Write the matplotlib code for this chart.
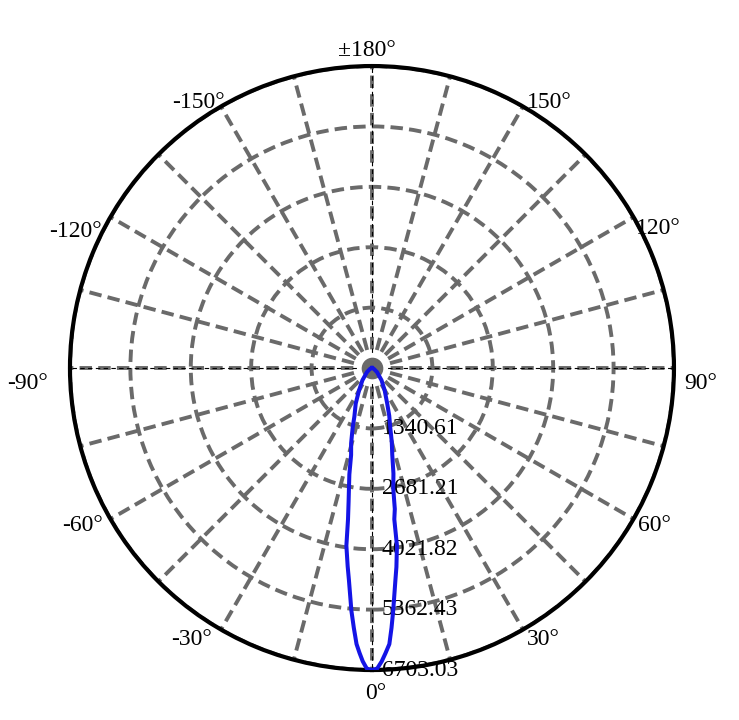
import numpy as np
import matplotlib
matplotlib.use('Agg')
import matplotlib.pyplot as plt
from matplotlib.transforms import offset_copy

plt.rcParams['font.family'] = ['Liberation Serif', 'DejaVu Serif']

# intensity curve (angle in degrees, 0 = down, + = right)
angles_deg = [-90, -70, -51, -38, -30, -24.6, -20, -17.9, -15.5, -13.5, -12, -10.8,
              -9.9, -9.0, -8.2, -7.0, -6.2, -4.85, -4.0, -3.2, -2.5, -1.8, -1,
              0, 1, 1.9, 2.7, 3.6, 4.3, 5.0, 6.3, 7.0, 8.0, 8.4, 9.2, 10.0, 11.5,
              13.2, 15, 17.0, 19.9, 23.2, 29.6, 38, 51, 70, 90]
intensity = [0, 40, 144, 345, 575, 867, 1140, 1397, 1730, 1985, 2415, 2729,
             3020, 3400, 3984, 4430, 4736, 5405, 5780, 6137, 6330, 6514, 6670,
             6703.03, 6670, 6515, 6340, 6140, 5784, 5405, 4738, 4450, 3981, 3393, 3170, 2722, 2390,
             1970, 1700, 1390, 1126, 858, 570, 345, 144, 40, 0]

r_ticks = [1340.61, 2681.21, 4021.82, 5362.43, 6703.03]
r_labels = ['1340.61', '2681.21', '4021.82', '5362.43', '6703.03']
theta_label_angles = [0, 30, 60, 90, 120, 150, 180, 210, 240, 270, 300, 330]
theta_labels = ['0°', '30°', '60°', '90°', '120°', '150°',
                '±180°', '-150°', '-120°', '-90°', '-60°', '-30°']

# placement of the angle labels around the rim: (dx, dy) in pixels, ha, va
label_place = {
    0: (4, -13, 'center', 'top'),
    30: (4, 1, 'left', 'top'),
    60: (4, 4, 'left', 'top'),
    90: (10, -5, 'left', 'top'),
    120: (2, -1, 'left', 'top'),
    150: (4, -2, 'left', 'baseline'),
    180: (-5, 10, 'center', 'baseline'),
    210: (4, -2, 'right', 'baseline'),
    240: (-9, -4, 'right', 'top'),
    270: (-22, -5, 'right', 'top'),
    300: (-8, 4, 'right', 'top'),
    330: (-9, 1, 'right', 'top'),
}

fig = plt.figure(figsize=(7.39, 7.20), dpi=100)
ax = fig.add_axes([0.0947, 0.0694, 0.8173, 0.8389], projection='polar')
ax.set_theta_zero_location('S')
ax.set_theta_direction(1)
ax.set_ylim(0, r_ticks[-1])

ax.set_thetagrids(range(0, 360, 15), [''] * 24)
ax.set_rgrids(r_ticks, [''] * len(r_ticks))
ax.grid(True, color='#6a6a6a', linestyle=(0, (3.2, 1.6)), linewidth=2.8)
ax.spines['polar'].set_linewidth(3)
ax.spines['polar'].set_color('black')

# thin black dashes along the main axes
for a in [0, 90, 180, 270]:
    ax.plot([np.radians(a), np.radians(a)], [0, r_ticks[-1]], color='black',
            linestyle=(0, (4, 3)), linewidth=0.8, zorder=3)

ax.plot(0, 0, 'o', ms=19, mfc='#6a6a6a', mec='white', mew=3.4, zorder=4)

for r, lab in zip(r_ticks, r_labels):
    trans = offset_copy(ax.transData, fig=fig, x=10, y=0, units='dots')
    ax.text(0, r, lab, transform=trans, ha='left', va='center', fontsize=17, zorder=5)

for a, lab in zip(theta_label_angles, theta_labels):
    dx, dy, ha, va = label_place[a]
    trans = offset_copy(ax.transData, fig=fig, x=dx, y=dy, units='dots')
    ax.text(np.radians(a), r_ticks[-1], lab, transform=trans, ha=ha, va=va,
            fontsize=17, clip_on=False)

ax.plot(np.radians(angles_deg), intensity, color='#1414e6', linewidth=2.9, zorder=6)

fig.savefig('out.png', dpi=100)
